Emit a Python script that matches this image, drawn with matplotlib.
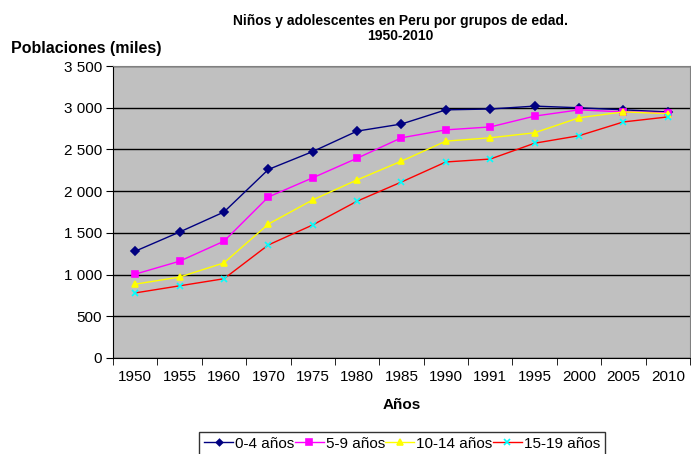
import matplotlib.pyplot as plt
from matplotlib.ticker import FuncFormatter, MultipleLocator

plt.rcParams['font.family'] = ['Liberation Sans', 'DejaVu Sans']

years = ["1950", "1955", "1960", "1970", "1975", "1980", "1985",
         "1990", "1991", "1995", "2000", "2005", "2010"]

edad_0_4 = [1280, 1510, 1750, 2260, 2475, 2720, 2805, 2975, 2985, 3020, 3000, 2975, 2950]
edad_5_9 = [1005, 1160, 1400, 1930, 2160, 2395, 2640, 2735, 2770, 2900, 2975, 2950, 2940]
edad_10_14 = [885, 970, 1140, 1605, 1895, 2135, 2360, 2600, 2640, 2700, 2880, 2950, 2930]
edad_15_19 = [780, 865, 950, 1355, 1595, 1880, 2110, 2350, 2385, 2575, 2665, 2830, 2890]

series = [
    ("0-4 años", edad_0_4, "#000080", "D", "#000080"),
    ("5-9 años", edad_5_9, "#FF00FF", "s", "#FF00FF"),
    ("10-14 años", edad_10_14, "#FFFF00", "^", "#FFFF00"),
    ("15-19 años", edad_15_19, "#FF0000", "x", "#00FFFF"),
]

fig = plt.figure(figsize=(6.91, 4.54), dpi=100)
ax = fig.add_axes([0.1635, 0.2115, 0.835, 0.643])
ax.set_facecolor("#C0C0C0")

x = list(range(len(years)))
for label, vals, color, marker, mcolor in series:
    ax.plot(x, vals, color=color, linewidth=1.0, marker=marker,
            markersize=5 if marker != "D" else 4,
            markerfacecolor=mcolor, markeredgecolor=mcolor,
            markeredgewidth=1.2, label=label)

ax.set_xlim(-0.5, len(years) - 0.5)
ax.set_ylim(0, 3500)
ax.yaxis.set_major_locator(MultipleLocator(500))
ax.yaxis.set_major_formatter(FuncFormatter(lambda v, p: f"{int(v):,}".replace(",", " ")))
ax.grid(axis="y", color="black", linewidth=1.0)
ax.set_axisbelow(True)

ax.set_xticks(x)
ax.set_xticklabels(years)
ax.set_xticks([i - 0.5 for i in range(len(years) + 1)], minor=True)
ax.tick_params(axis="x", which="major", length=0, pad=9, labelsize=11)
ax.tick_params(axis="x", which="minor", length=5, direction="out", color="black")
ax.tick_params(axis="y", length=5, direction="out", labelsize=11, pad=3)

for s in ["top", "right"]:
    ax.spines[s].set_color("#808080")
for s in ["left", "bottom"]:
    ax.spines[s].set_color("black")

fig.text(0.58, 0.937, "Niños y adolescentes en Peru por grupos de edad.\n1950-2010",
         ha="center", va="center", fontsize=10, fontweight="bold", linespacing=1.1)
fig.text(0.016, 0.893, "Poblaciones (miles)", ha="left", va="center",
         fontsize=11.5, fontweight="bold")
ax.set_xlabel("Años", fontsize=11, fontweight="bold", labelpad=10)

leg = fig.legend(loc="upper center", bbox_to_anchor=(0.582, 0.0485), ncol=4,
                 frameon=True, fancybox=False, edgecolor="black",
                 fontsize=11, handlelength=1.9, handletextpad=0.15,
                 columnspacing=0.0, borderpad=0.3, borderaxespad=0,
                 markerscale=0.8)
leg.get_frame().set_linewidth(1.0)

fig.savefig("out.png", dpi=100)
